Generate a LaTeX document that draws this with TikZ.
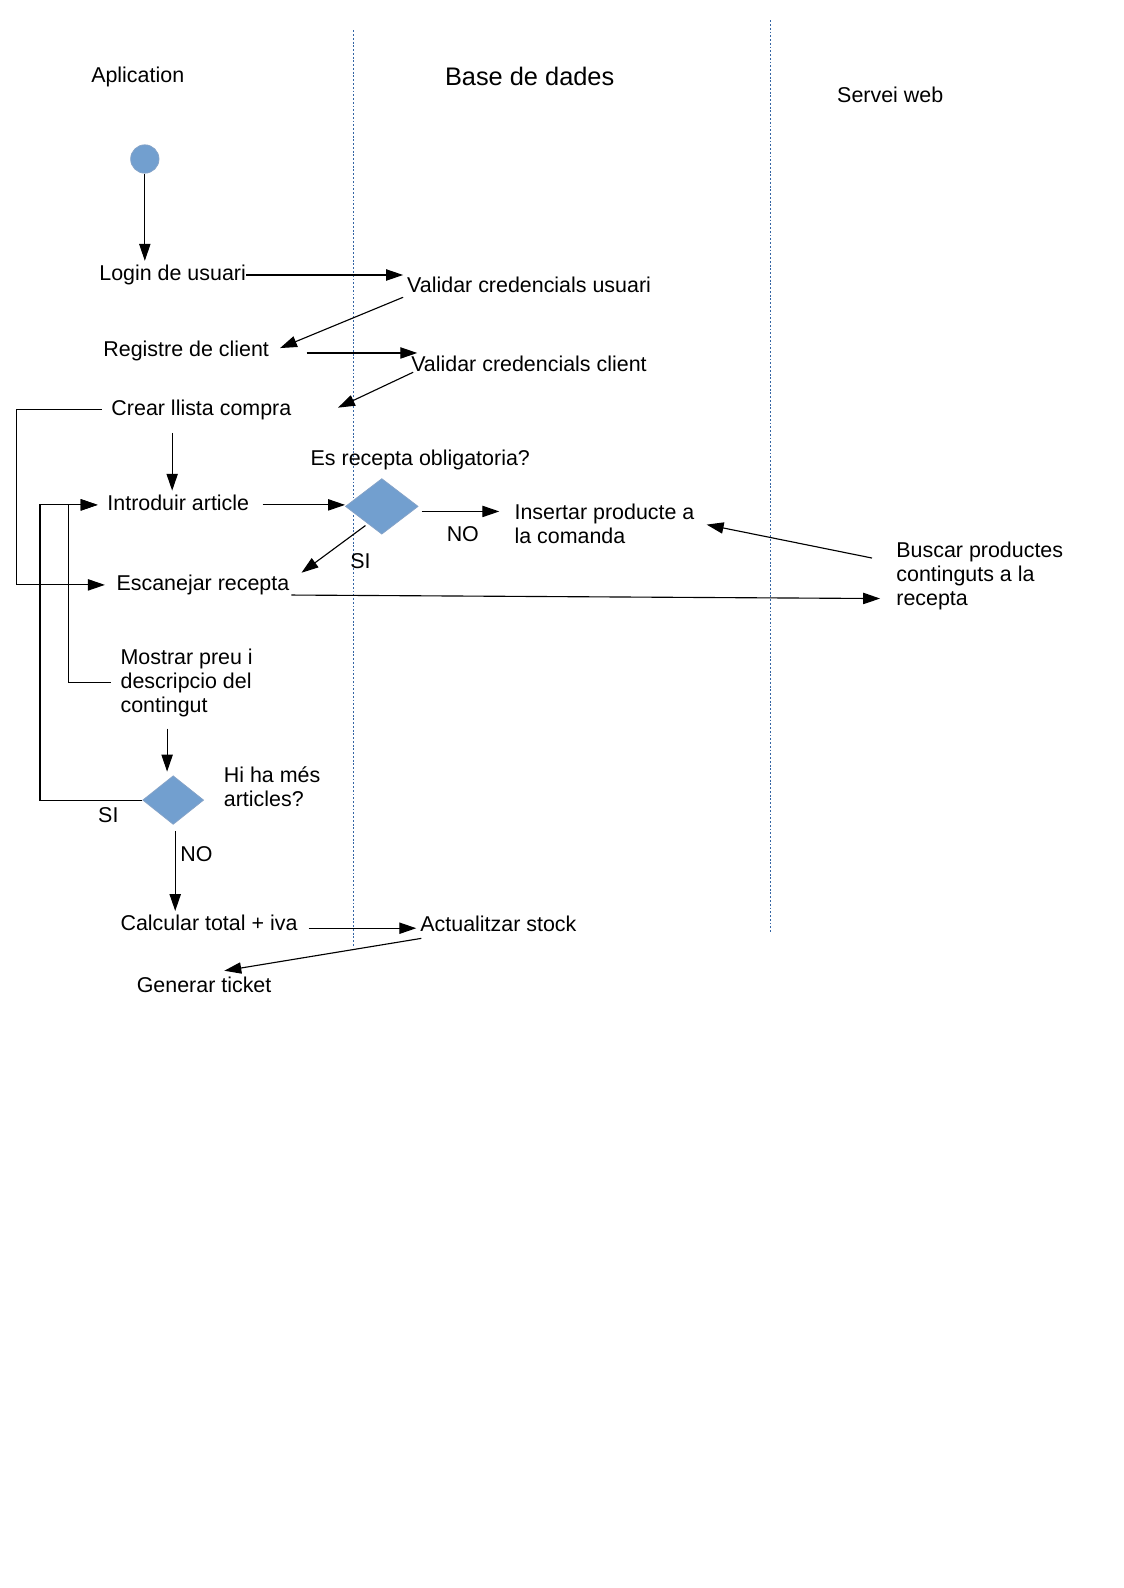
\documentclass[tikz,border=0pt]{standalone}
\usepackage{fontspec}
\setmainfont{Liberation Sans}
\usetikzlibrary{arrows.meta,shapes.geometric,positioning,calc}
\definecolor{nodeblue}{RGB}{114,159,207}
\definecolor{edgeblue}{RGB}{52,101,164}

\begin{document}
\begin{tikzpicture}[x=0.18936mm,y=-0.18936mm]
\tikzstyle{txt}=[font=\fontsize{11.4}{12.7}\selectfont,inner sep=2pt,text height=8.3pt,text depth=2.4pt]
\tikzstyle{txtm}=[font=\fontsize{11.4}{12.7}\selectfont,inner sep=2pt,align=left,anchor=west]
\tikzstyle{dec}=[diamond,draw=edgeblue!60,fill=nodeblue,inner sep=0pt]
\tikzstyle{lane}=[edgeblue,line width=0.5pt,dash pattern=on 1pt off 1pt]
\tikzstyle{arr}=[-{Triangle[length=9pt,width=6pt]},line width=0.6pt]
\useasboundingbox (0,0) rectangle (1109,1568);
\draw[lane] (349,30) -- (349,935);
\draw[lane] (761,20) -- (761,922);
\node[txt] (lapp) at (136,76) {Aplication};
\node[txt,font=\fontsize{13.5}{15}\selectfont] (ldb) at (523,79) {Base de dades};
\node[txt] (lweb) at (879,96) {Servei web};
\node[circle,fill=nodeblue,draw=edgeblue!60,minimum size=5.3mm,inner sep=0pt] (start) at (143,157) {};
\node[txt,anchor=base west] (login) at (94,277) {Login de usuari};
\node[txt,anchor=base west] (valu) at (398,289) {Validar credencials usuari};
\node[txt,anchor=base west] (reg) at (98,352) {Registre de client};
\node[txt,anchor=base west] (valc) at (402,367) {Validar credencials client};
\node[txt,anchor=base west] (crear) at (106,410) {Crear llista compra};
\node[txt,anchor=base west] (intro) at (102,504) {Introduir article};
\node[dec,minimum width=13.6mm,minimum height=10.4mm] (recep) at (377,500) {};
\node[txt] (qrecep) at (415,454) {Es recepta obligatoria?};
\node[txtm] (insert) at (504,517) {Insertar producte a\\la comanda};
\node[txt] (no1) at (457,529) {NO};
\node[txt] (si1) at (356,556) {SI};
\node[txt,anchor=base west] (esc) at (111,583) {Escanejar recepta};
\node[txtm] (buscar) at (881,569) {Buscar productes\\continguts a la\\recepta};
\node[txtm] (mostrar) at (115,674) {Mostrar preu i\\descripcio del\\contingut};
\node[dec,minimum width=11.4mm,minimum height=9.1mm] (more) at (171,790) {};
\node[txtm] (himes) at (217,777) {Hi ha més\\articles?};
\node[txt] (si2) at (107,807) {SI};
\node[txt] (no2) at (194,845) {NO};
\node[txt,anchor=base west] (total) at (115,919) {Calcular total + iva};
\node[txt,anchor=base west] (stock) at (411,920) {Actualitzar stock};
\node[txt,anchor=base west] (ticket) at (131,980) {Generar ticket};
\draw[arr] (start) -- (start |- login.north);
\draw[arr,shorten <=-2pt] (login.east) -- (login.east -| valu.west);
\draw[arr,shorten >=4pt] ($(valu.south west)+(0,-4)$) -- (reg.east);
\draw[arr] ($(reg.east)+(33,2)$) coordinate (r1) -- ($(r1 -| valc.west)+(10,0)$);
\draw[arr] ($(valc.south west)+(6,-8)$) -- ($(crear.east)+(42,-2)$);
\draw[arr] ($(crear.south west)+(64,9)$) coordinate (c1) -- (c1 |- intro.north);
\draw[arr,shorten <=3pt,shorten >=4pt] (crear.west) -- ++(-90,0) |- (esc.west);
\draw[arr,shorten <=5pt] (intro.east) -- (intro.east -| recep.west);
\draw[arr] ($(recep.east)+(3,5)$) coordinate (d1) -- ($(d1 -| insert.west)+(-11,0)$);
\draw[arr] ($(recep.south west)+(2,5)$) -- ($(esc.north east)+(8,2)$);
\draw[arr] ($(esc.south east)+(-2,-4)$) -- ($(buscar.west)+(-12,22)$);
\draw[arr] ($(buscar.west)+(-20,-18)$) -- ($(insert.east)+(8,1)$);
\draw[arr,shorten <=3pt,shorten >=3pt] (mostrar.west) -- ++(-47,0) |- (intro.west);
\draw[arr,shorten >=3pt] (more.west) -- ++(-101,0) |- (intro.west);
\draw[arr,shorten >=2pt] ($(mostrar.south west)+(50,8)$) coordinate (m1) -- (m1 |- more.north);
\draw[arr] ($(more.south)+(2,6)$) coordinate (m2) -- (m2 |- total.north);
\draw[arr] ($(total.east)+(7,3)$) coordinate (t1) -- (t1 -| stock.west);
\draw[arr] ($(stock.south west)+(5,-2)$) -- ($(ticket.north)+(20,-2)$);
\end{tikzpicture}
\end{document}
